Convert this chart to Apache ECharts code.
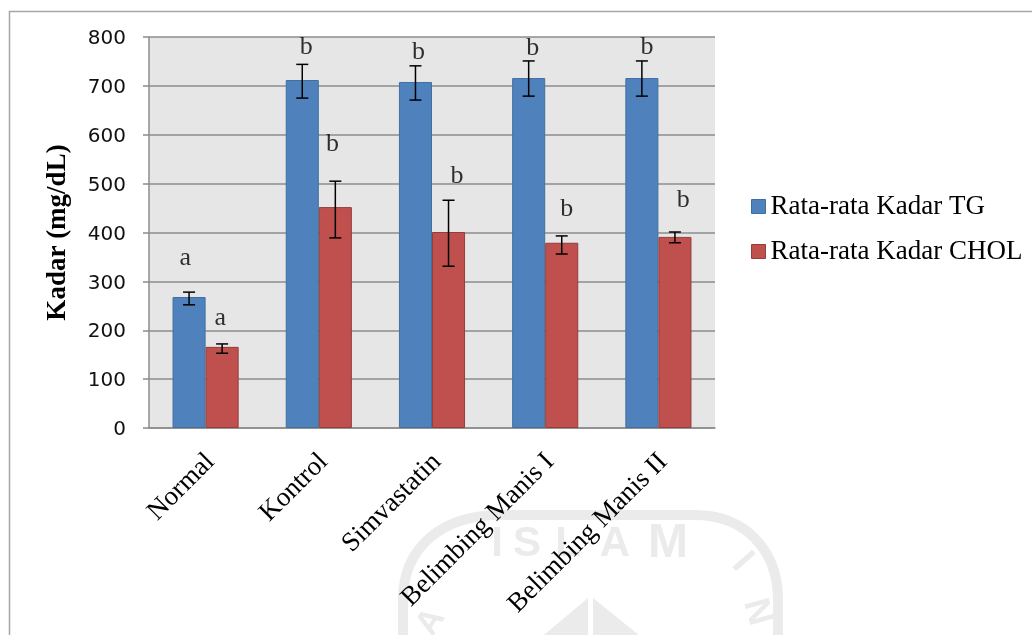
<!DOCTYPE html>
<html><head><meta charset="utf-8">
<style>html,body{margin:0;padding:0;background:#fff}#c{width:1032px;height:635px;filter:blur(0.4px)}</style>
<script src="https://cdn.jsdelivr.net/npm/echarts@6/dist/echarts.min.js"></script>
</head><body><div id="c"></div>
<script>
const categories = ['Normal','Kontrol','Simvastatin','Belimbing Manis I','Belimbing Manis II'];
const tgName = 'Rata-rata Kadar TG';
const cholName = 'Rata-rata Kadar CHOL';
const tgValues = [268,712,708,716,716];
const cholValues = [166,452,401,379,391];
const tgLow = [252,675,671,679,679];
const tgHigh = [278,744,741,751,751];
const cholLow = [153,389,331,356,379];
const cholHigh = [172,505,466,393,401];
const letterText = ['a','a','b','b','b','b','b','b','b','b'];
const letterX = [0.32,0.63,1.39,1.62,2.38,2.72,3.39,3.69,4.40,4.72];
const letterY = [348,225,780,581,769,516,777,448,780,466];
const yTicks = {min:0,max:800,interval:100};

const serif = '"Liberation Serif","Times New Roman",serif';
const mark = '#ebebeb';
const markStroke = {fill:'none',stroke:mark,lineWidth:10};
function wm(ch,x,y,rot,size){return {type:'text',z:0,x:x,y:y,rotation:rot,style:{text:ch,fill:mark,font:'bold '+size+'px "Liberation Sans",Arial,sans-serif',align:'center',verticalAlign:'middle'}};}
const graphics = [
 {type:'rect',z:0,shape:{x:9.5,y:11.5,width:1100,height:700},style:{fill:'none',stroke:'#a6a6a6',lineWidth:1.5}},
 {type:'line',z:0,shape:{x1:403,y1:660,x2:403,y2:600},style:markStroke},
 {type:'bezierCurve',z:0,shape:{x1:403,y1:600,cpx1:403,cpy1:545,cpx2:445,cpy2:515,x2:500,y2:515},style:markStroke},
 {type:'line',z:0,shape:{x1:500,y1:515,x2:695,y2:515},style:markStroke},
 {type:'bezierCurve',z:0,shape:{x1:695,y1:515,cpx1:745,cpy1:515,cpx2:778,cpy2:550,x2:778,y2:600},style:markStroke},
 {type:'line',z:0,shape:{x1:778,y1:600,x2:778,y2:660},style:markStroke},
 wm('I',497,544,0,42),wm('S',527,544,0,42),wm('L',568,544,0,42),wm('A',615,544,0,42),wm('M',668,544,0,48),
 wm('I',742,562,-0.85,38),wm('N',757,612,-1.3,36),wm('A',431,622,1.0,34),
 {type:'polygon',z:0,shape:{points:[[588,598],[588,640],[538,640]]},style:{fill:mark}},
 {type:'polygon',z:0,shape:{points:[[593,598],[593,640],[645,640]]},style:{fill:mark}}
];

function errRender(sign){
  return function(params,api){
    const band = api.size([1,0])[0];
    const dx = sign*band*0.146;
    const lo = api.coord([api.value(0),api.value(1)]);
    const hi = api.coord([api.value(0),api.value(2)]);
    const x = lo[0]+dx, cap=6;
    const st = {stroke:'#000',lineWidth:1.5,fill:'none'};
    return {type:'group',children:[
      {type:'line',shape:{x1:x,y1:lo[1],x2:x,y2:hi[1]},style:st},
      {type:'line',shape:{x1:x-cap,y1:lo[1],x2:x+cap,y2:lo[1]},style:st},
      {type:'line',shape:{x1:x-cap,y1:hi[1],x2:x+cap,y2:hi[1]},style:st}
    ]};
  };
}
const chart = echarts.init(document.getElementById('c'),null,{renderer:'canvas'});
chart.setOption({
  animation:false,
  backgroundColor:'#fff',
  graphic:{elements:graphics},
  legend:{orient:'vertical',left:746,top:188,icon:'rect',itemWidth:14,itemHeight:14,itemGap:18,itemStyle:{borderWidth:1},
    data:[tgName,cholName],selectedMode:false,
    textStyle:{fontFamily:serif,fontSize:27,color:'#000'}},
  grid:{left:149,right:317,top:37,bottom:207,show:true,backgroundColor:'#e6e6e6',borderWidth:0},
  xAxis:[
    {type:'category',data:categories,axisTick:{show:false},
     axisLine:{show:true,lineStyle:{color:'#8c8c8c',width:1.5}},
     axisLabel:{rotate:45,interval:0,margin:25,verticalAlign:'top',lineHeight:14,fontFamily:serif,fontSize:27,color:'#000'}},
    {type:'value',min:0,max:5,show:false}
  ],
  yAxis:{type:'value',min:yTicks.min,max:yTicks.max,interval:yTicks.interval,
    name:'Kadar (mg/dL)',nameLocation:'middle',nameGap:77,nameRotate:90,
    nameTextStyle:{fontFamily:serif,fontWeight:'bold',fontSize:27,color:'#000'},
    axisLine:{show:true,lineStyle:{color:'#8c8c8c',width:1.5}},
    axisTick:{show:true,length:6,lineStyle:{color:'#8c8c8c',width:1.5}},
    axisLabel:{margin:23,formatter:'{a|{value}}',
      rich:{a:{padding:[4,0,0,0],fontFamily:'"DejaVu Sans",Verdana,sans-serif',fontSize:20,color:'#111'}}},
    splitLine:{show:true,lineStyle:{color:'#8c8c8c',width:1.5}}},
  series:[
    {name:tgName,type:'bar',data:tgValues,barGap:0,barCategoryGap:'41.6%',
     itemStyle:{color:'#4f81bd',borderColor:'#41709f',borderWidth:1}},
    {name:cholName,type:'bar',data:cholValues,barGap:0,barCategoryGap:'41.6%',
     itemStyle:{color:'#c0504d',borderColor:'#943e3b',borderWidth:1}},
    {type:'custom',silent:true,z:5,renderItem:errRender(-1),
     data:categories.map((c,i)=>[i,tgLow[i],tgHigh[i]]),encode:{x:0,y:[1,2]}},
    {type:'custom',silent:true,z:5,renderItem:errRender(1),
     data:categories.map((c,i)=>[i,cholLow[i],cholHigh[i]]),encode:{x:0,y:[1,2]}},
    {type:'scatter',xAxisIndex:1,silent:true,symbolSize:1,z:6,itemStyle:{color:'rgba(0,0,0,0)'},
     data:letterText.map((t,i)=>({value:[letterX[i],letterY[i]],name:t})),
     label:{show:true,position:'inside',formatter:'{b}',fontFamily:serif,fontSize:26,color:'#000'}}
  ]
});
</script></body></html>
